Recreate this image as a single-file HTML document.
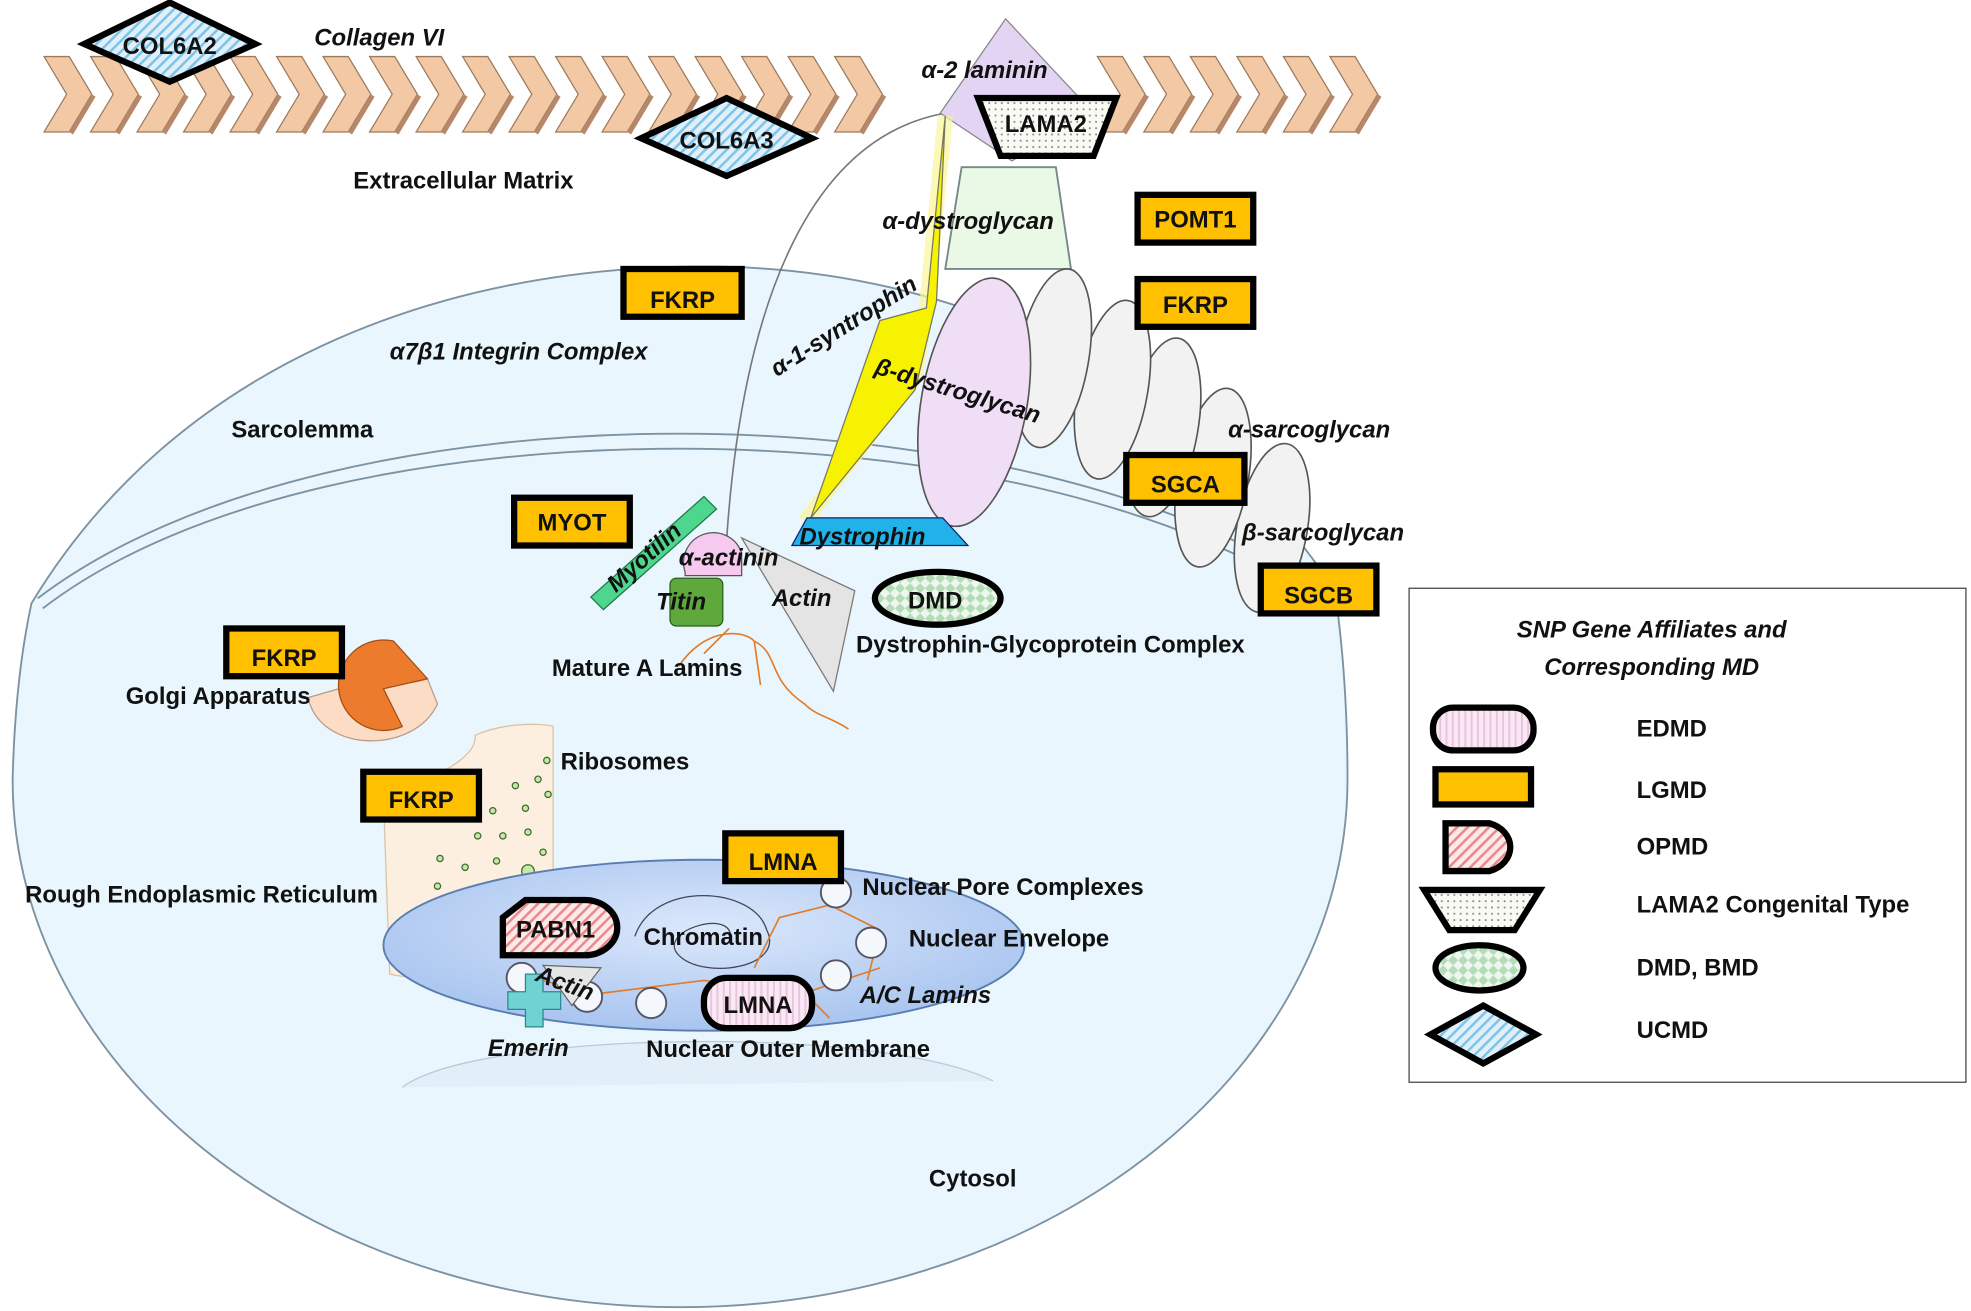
<!DOCTYPE html>
<html><head><meta charset="utf-8"><style>
html,body{margin:0;padding:0;background:#fff}
svg{display:block}
text{font-family:"Liberation Sans",sans-serif;font-weight:bold;font-size:19px;fill:#111}
.i{font-style:italic}
</style></head><body>
<svg width="1971" height="1311" viewBox="0 0 1568 1043" xmlns="http://www.w3.org/2000/svg">
<defs>
<pattern id="blu" width="6" height="6" patternUnits="userSpaceOnUse" patternTransform="rotate(45)"><rect width="6" height="6" fill="#dff0fb"/><rect width="2" height="6" fill="#7fc3e8"/></pattern>
<pattern id="pnk" width="5" height="5" patternUnits="userSpaceOnUse"><rect width="5" height="5" fill="#fbe8f5"/><rect width="1.5" height="5" fill="#e8c4dc"/></pattern>
<pattern id="red" width="6" height="6" patternUnits="userSpaceOnUse" patternTransform="rotate(45)"><rect width="6" height="6" fill="#fde9e9"/><rect width="2" height="6" fill="#e88a8a"/></pattern>
<pattern id="dot" width="5" height="5" patternUnits="userSpaceOnUse"><rect width="5" height="5" fill="#fafaf4"/><circle cx="2" cy="2" r="0.8" fill="#888"/></pattern>
<pattern id="chk" width="8" height="8" patternUnits="userSpaceOnUse"><rect width="8" height="8" fill="#eef7ee"/><path d="M4 0L8 4L4 8L0 4Z" fill="#b5dcb8"/></pattern>
<radialGradient id="nuc" cx="50%" cy="40%" r="60%"><stop offset="0" stop-color="#dbe8fb"/><stop offset="1" stop-color="#a8c4ef"/></radialGradient>
<g id="chev"><path d="M0 0H20L38 30L20 60H0L18 30Z" fill="#f3c9a5" stroke="#9c7a5c" stroke-width="1"/><path d="M20 60L38 30L41 32L23 62Z" fill="#b7876a"/></g>
</defs>

<g transform="translate(35,45)">
<use href="#chev" x="0"/><use href="#chev" x="37"/><use href="#chev" x="74"/><use href="#chev" x="111"/><use href="#chev" x="148"/><use href="#chev" x="185"/><use href="#chev" x="222"/><use href="#chev" x="259"/><use href="#chev" x="296"/><use href="#chev" x="333"/><use href="#chev" x="370"/><use href="#chev" x="407"/><use href="#chev" x="444"/><use href="#chev" x="481"/><use href="#chev" x="518"/><use href="#chev" x="555"/><use href="#chev" x="592"/><use href="#chev" x="629"/>
<use href="#chev" x="838"/><use href="#chev" x="875"/><use href="#chev" x="912"/><use href="#chev" x="949"/><use href="#chev" x="986"/><use href="#chev" x="1023"/>
</g>

<!-- cell -->
<path d="M25 480 C140 290 350 212 560 212 C760 212 950 300 1062 470 Q1072 540 1072 620 A531 420 0 0 1 10 620 Q12 540 25 480 Z" fill="#eaf6fd" stroke="#7c93a3" stroke-width="1.5"/>
<path d="M30 476 C150 385 350 345 540 345 C740 345 930 390 1045 465" fill="none" stroke="#7c93a3" stroke-width="1.5"/>
<path d="M34 484 C150 395 350 357 540 357 C740 357 930 400 1042 474" fill="none" stroke="#7c93a3" stroke-width="1.5"/>
<path d="M320 865 C380 820 700 815 790 860" fill="#e2eff8" stroke="#b8cad6" stroke-width="1"/>

<path d="M578 430 C590 250 640 110 752 90" fill="none" stroke="#777" stroke-width="1.3"/>

<path d="M305 635 C340 620 380 605 378 585 C400 575 430 575 440 578 L440 705 C430 740 380 790 310 775 Z" fill="#fcefe0" stroke="#d8c2a8"/>
<g fill="#c9e8a8" stroke="#3d6b2e" stroke-width="1">
<circle cx="435" cy="605" r="2.5"/><circle cx="410" cy="625" r="2.5"/><circle cx="428" cy="620" r="2.5"/><circle cx="392" cy="645" r="2.5"/><circle cx="418" cy="643" r="2.5"/><circle cx="436" cy="632" r="2.5"/><circle cx="380" cy="665" r="2.5"/><circle cx="400" cy="665" r="2.5"/><circle cx="420" cy="662" r="2.5"/><circle cx="350" cy="683" r="2.5"/><circle cx="370" cy="690" r="2.5"/><circle cx="395" cy="685" r="2.5"/><circle cx="432" cy="678" r="2.5"/><circle cx="348" cy="705" r="2.5"/><circle cx="380" cy="710" r="2.5"/><circle cx="410" cy="712" r="2.5"/>
<circle cx="420" cy="693" r="5"/><circle cx="400" cy="704" r="5"/><circle cx="383" cy="722" r="5"/><circle cx="371" cy="750" r="5"/><circle cx="355" cy="735" r="5"/>
</g>

<ellipse cx="560" cy="752" rx="255" ry="68" fill="url(#nuc)" stroke="#5a7db0" stroke-width="1.5"/>
<path d="M505 745 C520 700 600 705 610 740 C625 770 560 780 540 760 C520 740 590 720 580 750" fill="none" stroke="#445" stroke-width="1"/>
<path d="M430 780 L480 790 L560 780 L640 790 L700 770 M600 770 L620 730 L660 720 L700 740 M640 790 L660 810 M700 740 L690 780" fill="none" stroke="#e07b2a" stroke-width="1.3"/>
<g fill="#f4f8fc" stroke="#556" stroke-width="1.5">
<circle cx="665" cy="710" r="12"/><circle cx="693" cy="750" r="12"/><circle cx="665" cy="776" r="12"/><circle cx="518" cy="798" r="12"/><circle cx="467" cy="793" r="12"/><circle cx="415" cy="778" r="12"/>
</g>

<path d="M245 555 C255 600 330 600 348 560 L340 540 C325 545 300 545 280 545 Z" fill="#fcdcc4" stroke="#b98"/>
<path d="M313 510 A36 36 0 1 0 320 578 L305 548 L340 540 Z" fill="#ec7b2e" stroke="#a44e16"/>

<path d="M800 15 L870 90 L805 128 L748 90 Z" fill="#e3d4f4" stroke="#888"/>
<path d="M778 78 H888 L870 124 H796 Z" fill="url(#dot)" stroke="#000" stroke-width="5"/>
<path d="M765 133 H840 L852 214 H752 Z" fill="#eaf8e6" stroke="#788" stroke-width="1.5"/>
<path d="M752 92 L737 245 L728 300 L640 415" fill="none" stroke="#f9f59a" stroke-width="12" opacity="0.7"/>
<path d="M752 92 L745 240 L728 310 L645 412 L700 255 L737 245 Z" fill="#f7f200" stroke="#776" stroke-width="1"/>
<g fill="#f2f2f2" stroke="#555" stroke-width="1.3">
<ellipse cx="1012" cy="420" rx="28" ry="68" transform="rotate(10 1012 420)"/>
<ellipse cx="965" cy="380" rx="28" ry="72" transform="rotate(10 965 380)"/>
<ellipse cx="925" cy="340" rx="28" ry="72" transform="rotate(10 925 340)"/>
<ellipse cx="885" cy="310" rx="28" ry="72" transform="rotate(10 885 310)"/>
<ellipse cx="838" cy="285" rx="28" ry="72" transform="rotate(10 838 285)"/>
</g>
<ellipse cx="775" cy="320" rx="42" ry="100" transform="rotate(10 775 320)" fill="#f0def7" stroke="#555" stroke-width="1.3"/>
<path d="M642 412 H750 L770 434 H630 Z" fill="#22b2ea" stroke="#126" stroke-width="1"/>
<path d="M590 428 L680 470 L663 550 Z" fill="#e4e4e4" stroke="#777"/>
<path d="M470 475 L560 395 L570 405 L480 485 Z" fill="#4fd68e" stroke="#1b7a48"/>
<path d="M545 455 A22 22 0 0 1 590 440 V458 H545 Z" fill="#f6c9ef" stroke="#555"/>
<rect x="533" y="460" width="42" height="38" rx="5" fill="#5ea83c" stroke="#2a5e1a"/>
<path d="M540 530 C560 500 590 500 600 510 C620 520 610 540 640 560 C650 570 660 570 675 580 M600 510 L605 545 M580 500 L560 520" fill="none" stroke="#e07b2a" stroke-width="1.3"/>

<g fill="#ffc000" stroke="#000" stroke-width="5">
<rect x="496" y="214" width="94" height="38"/>
<rect x="905" y="155" width="92" height="38"/>
<rect x="905" y="222" width="92" height="38"/>
<rect x="896" y="362" width="94" height="38"/>
<rect x="1003" y="450" width="92" height="38"/>
<rect x="409" y="396" width="92" height="38"/>
<rect x="180" y="500" width="92" height="38"/>
<rect x="289" y="614" width="92" height="38"/>
<rect x="577" y="663" width="92" height="38"/>
</g>
<text x="543" y="245" text-anchor="middle">FKRP</text>
<text x="951" y="181" text-anchor="middle">POMT1</text>
<text x="951" y="249" text-anchor="middle">FKRP</text>
<text x="943" y="392" text-anchor="middle">SGCA</text>
<text x="1049" y="480" text-anchor="middle">SGCB</text>
<text x="455" y="422" text-anchor="middle">MYOT</text>
<text x="226" y="530" text-anchor="middle">FKRP</text>
<text x="335" y="643" text-anchor="middle">FKRP</text>
<text x="623" y="692" text-anchor="middle">LMNA</text>

<path d="M135 2 L203 35 L135 65 L67 35 Z" fill="url(#blu)" stroke="#000" stroke-width="5"/>
<text x="135" y="43" text-anchor="middle">COL6A2</text>
<path d="M578 78 L646 110 L578 140 L510 110 Z" fill="url(#blu)" stroke="#000" stroke-width="5"/>
<text x="578" y="118" text-anchor="middle">COL6A3</text>

<ellipse cx="746" cy="476" rx="50" ry="21" fill="url(#chk)" stroke="#000" stroke-width="5"/>
<text x="744" y="484" text-anchor="middle">DMD</text>
<path d="M418 716 H465 A26 22 0 0 1 465 760 H400 V730 Z" fill="url(#red)" stroke="#000" stroke-width="5"/>
<text x="442" y="746" text-anchor="middle">PABN1</text>
<path d="M432 768 L478 770 L455 800 Z" fill="#e6e6e6" stroke="#666"/>
<path d="M418 775 h14 v14 h14 v14 h-14 v14 h-14 v-14 h-14 v-14 h14 Z" fill="#6ed3d2" stroke="#2a8a8a"/>
<rect x="560" y="778" width="86" height="40" rx="18" fill="url(#pnk)" stroke="#000" stroke-width="5"/>
<text x="603" y="806" text-anchor="middle">LMNA</text>

<text x="250" y="36" class="i">Collagen VI</text>
<text x="733" y="62" class="i">α-2 laminin</text>
<text x="832" y="105" text-anchor="middle">LAMA2</text>
<text x="281" y="150">Extracellular Matrix</text>
<text x="702" y="182" class="i">α-dystroglycan</text>
<text x="310" y="286" class="i">α7β1 Integrin Complex</text>
<text x="184" y="348">Sarcolemma</text>
<text x="618" y="300" class="i" transform="rotate(-32 618 300)">α-1-syntrophin</text>
<text x="695" y="297" class="i" transform="rotate(17 695 297)">β-dystroglycan</text>
<text x="977" y="348" class="i">α-sarcoglycan</text>
<text x="988" y="430" class="i">β-sarcoglycan</text>
<text x="490" y="472" class="i" transform="rotate(-42 490 472)">Myotilin</text>
<text x="540" y="450" class="i">α-actinin</text>
<text x="636" y="433" class="i">Dystrophin</text>
<text x="522" y="485" class="i">Titin</text>
<text x="614" y="482" class="i">Actin</text>
<text x="681" y="519">Dystrophin-Glycoprotein Complex</text>
<text x="439" y="538">Mature A Lamins</text>
<text x="100" y="560">Golgi Apparatus</text>
<text x="446" y="612">Ribosomes</text>
<text x="20" y="718">Rough Endoplasmic Reticulum</text>
<text x="686" y="712">Nuclear Pore Complexes</text>
<text x="512" y="752">Chromatin</text>
<text x="723" y="753">Nuclear Envelope</text>
<text x="425" y="780" class="i" transform="rotate(20 425 780)">Actin</text>
<text x="684" y="798" class="i">A/C Lamins</text>
<text x="388" y="840" class="i">Emerin</text>
<text x="514" y="841">Nuclear Outer Membrane</text>
<text x="739" y="944">Cytosol</text>

<rect x="1121" y="468" width="443" height="393" fill="#fff" stroke="#444" stroke-width="1"/>
<text x="1314" y="507" class="i" text-anchor="middle">SNP Gene Affiliates and</text>
<text x="1314" y="537" class="i" text-anchor="middle">Corresponding MD</text>
<rect x="1140" y="563" width="80" height="34" rx="16" fill="url(#pnk)" stroke="#000" stroke-width="5"/>
<text x="1302" y="586">EDMD</text>
<rect x="1142" y="612" width="76" height="28" fill="#ffc000" stroke="#000" stroke-width="5"/>
<text x="1302" y="635">LGMD</text>
<path d="M1150 655 H1185 A24 20 0 0 1 1185 693 H1150 Z" fill="url(#red)" stroke="#000" stroke-width="5"/>
<text x="1302" y="680">OPMD</text>
<path d="M1133 708 H1225 L1205 740 H1153 Z" fill="url(#dot)" stroke="#000" stroke-width="5"/>
<text x="1302" y="726">LAMA2 Congenital Type</text>
<ellipse cx="1177" cy="770" rx="35" ry="18" fill="url(#chk)" stroke="#000" stroke-width="5"/>
<text x="1302" y="776">DMD, BMD</text>
<path d="M1180 800 L1222 823 L1180 846 L1138 823 Z" fill="url(#blu)" stroke="#000" stroke-width="5"/>
<text x="1302" y="826">UCMD</text>
</svg>
</body></html>
